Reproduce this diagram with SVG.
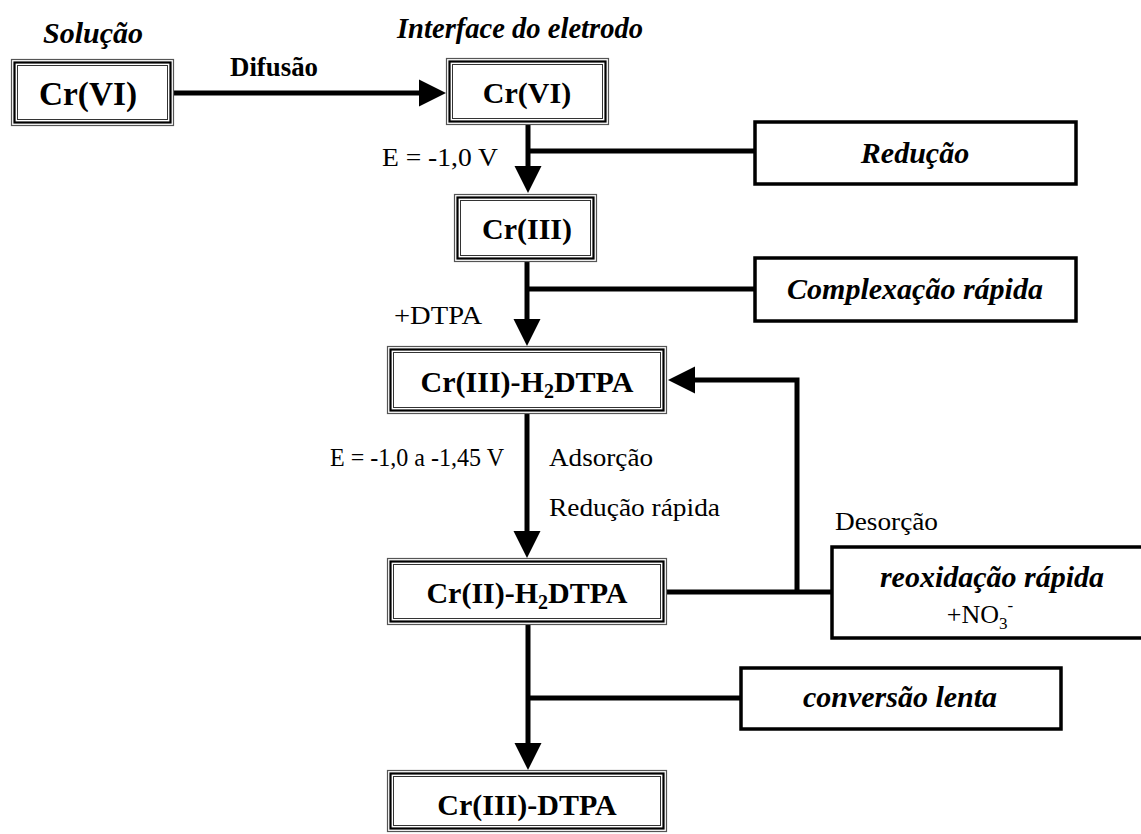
<svg xmlns="http://www.w3.org/2000/svg" width="1141" height="834" viewBox="0 0 1141 834">
<style>
.b1{fill:#fff;stroke:#555;stroke-width:1.2}
.b2{fill:none;stroke:#000;stroke-width:2.2}
.b3{fill:none;stroke:#333;stroke-width:1}
.sb{fill:#fff;stroke:#000;stroke-width:3.5}
.nl{font-family:"Liberation Serif","Times New Roman",serif;font-weight:bold;font-size:30px;text-anchor:middle;fill:#000}
.il{font-family:"Liberation Serif","Times New Roman",serif;font-weight:bold;font-style:italic;font-size:30px;text-anchor:middle;fill:#000}
.rl{font-family:"Liberation Serif","Times New Roman",serif;font-size:26px;fill:#000}
.ln{fill:none;stroke:#000;stroke-width:5}
</style>
<defs>
<marker id="ah" markerUnits="userSpaceOnUse" markerWidth="28" markerHeight="28" refX="0" refY="13.5" orient="auto" overflow="visible">
<path d="M0,0 L27,13.5 L0,27 z" fill="#000"/>
</marker>
</defs>
<rect width="1141" height="834" fill="#fff"/>

<g id="connectors">
<path class="ln" d="M174,93 H419" marker-end="url(#ah)"/>
<path class="ln" d="M528,125 V166" marker-end="url(#ah)"/>
<path class="ln" d="M526,151 H755"/>
<path class="ln" d="M527,262 V319" marker-end="url(#ah)"/>
<path class="ln" d="M525,289 H755"/>
<path class="ln" d="M527,414 V531" marker-end="url(#ah)"/>
<path class="ln" d="M797,592 V380 H695" marker-end="url(#ah)"/>
<path class="ln" d="M667,592 H832"/>
<path class="ln" d="M528,625 V743" marker-end="url(#ah)"/>
<path class="ln" d="M526,698 H741"/>
</g>

<g id="labels">
<text class="il" x="93" y="43" textLength="100" lengthAdjust="spacingAndGlyphs">Solução</text>
<text class="il" x="520" y="38" textLength="246" lengthAdjust="spacingAndGlyphs">Interface do eletrodo</text>
<text class="nl" x="274" y="76" style="font-size:27px" textLength="88" lengthAdjust="spacingAndGlyphs">Difusão</text>
<text class="rl" x="382" y="166" textLength="116" lengthAdjust="spacingAndGlyphs">E = -1,0 V</text>
<text class="rl" x="394" y="324" textLength="88" lengthAdjust="spacingAndGlyphs">+DTPA</text>
<text class="rl" x="330" y="466" textLength="174" lengthAdjust="spacingAndGlyphs">E = -1,0 a -1,45 V</text>
<text class="rl" x="549" y="466" textLength="104" lengthAdjust="spacingAndGlyphs">Adsorção</text>
<text class="rl" x="549" y="516" textLength="171" lengthAdjust="spacingAndGlyphs">Redução rápida</text>
<text class="rl" x="835" y="530" textLength="103" lengthAdjust="spacingAndGlyphs">Desorção</text>
</g>

<g id="n-crvi-sol">
<rect class="b1" x="11.5" y="59.5" width="162" height="66"/>
<rect class="b2" x="14.5" y="62.5" width="156" height="60"/>
<rect class="b3" x="17.5" y="65.5" width="150" height="54"/>
<text class="nl" x="88" y="105" style="font-size:33px" textLength="98" lengthAdjust="spacingAndGlyphs">Cr(VI)</text>
</g>

<g id="n-crvi-int">
<rect class="b1" x="446.5" y="58.5" width="162" height="66"/>
<rect class="b2" x="449.5" y="61.5" width="156" height="60"/>
<rect class="b3" x="452.5" y="64.5" width="150" height="54"/>
<text class="nl" x="527" y="103">Cr(VI)</text>
</g>

<g id="n-reducao">
<rect class="sb" x="755" y="122" width="321" height="62"/>
<text class="il" x="915" y="163">Redução</text>
</g>

<g id="n-criii">
<rect class="b1" x="454.5" y="194.5" width="142" height="67"/>
<rect class="b2" x="457.5" y="197.5" width="136" height="61"/>
<rect class="b3" x="460.5" y="200.5" width="130" height="55"/>
<text class="nl" x="527" y="239">Cr(III)</text>
</g>

<g id="n-complexacao">
<rect class="sb" x="755" y="258" width="321" height="63"/>
<text class="il" x="915" y="299">Complexação rápida</text>
</g>

<g id="n-criii-h2dtpa">
<rect class="b1" x="387.5" y="346.5" width="279" height="67"/>
<rect class="b2" x="390.5" y="349.5" width="273" height="61"/>
<rect class="b3" x="393.5" y="352.5" width="267" height="55"/>
<text class="nl" x="527" y="392">Cr(III)-H<tspan dy="6" style="font-size:20px">2</tspan><tspan dy="-6">DTPA</tspan></text>
</g>

<g id="n-crii-h2dtpa">
<rect class="b1" x="387.5" y="558.5" width="279" height="66"/>
<rect class="b2" x="390.5" y="561.5" width="273" height="60"/>
<rect class="b3" x="393.5" y="564.5" width="267" height="54"/>
<text class="nl" x="527" y="603">Cr(II)-H<tspan dy="6" style="font-size:20px">2</tspan><tspan dy="-6">DTPA</tspan></text>
</g>

<g id="n-reoxidacao">
<rect class="sb" x="832" y="547" width="330" height="91"/>
<text class="il" x="992" y="587">reoxidação rápida</text>
<text class="rl" x="980" y="623" text-anchor="middle">+NO<tspan dy="6" style="font-size:17px">3</tspan><tspan dy="-18" style="font-size:17px">-</tspan></text>
</g>

<g id="n-conversao">
<rect class="sb" x="741" y="668" width="320" height="61"/>
<text class="il" x="900" y="707">conversão lenta</text>
</g>

<g id="n-criii-dtpa">
<rect class="b1" x="387.5" y="770.5" width="279" height="61"/>
<rect class="b2" x="390.5" y="773.5" width="273" height="55"/>
<rect class="b3" x="393.5" y="776.5" width="267" height="49"/>
<text class="nl" x="527" y="815">Cr(III)-DTPA</text>
</g>
</svg>
